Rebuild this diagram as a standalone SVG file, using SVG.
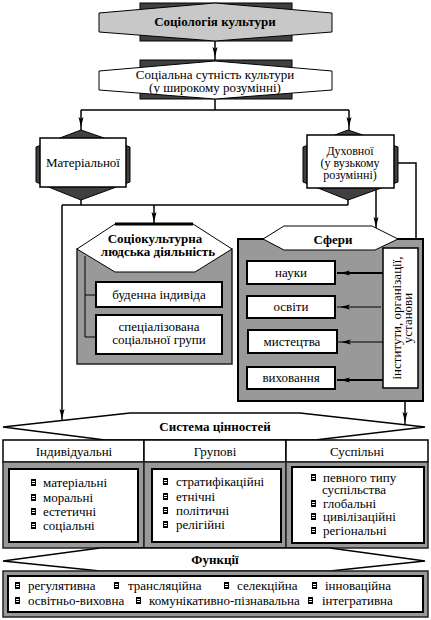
<svg xmlns="http://www.w3.org/2000/svg" xmlns:xlink="http://www.w3.org/1999/xlink" width="431" height="620" viewBox="0 0 431 620">
<style>
.t{font-family:"Liberation Serif","Times New Roman",serif;font-size:13px;fill:#000}
.s{font-size:12px}
.b{font-weight:bold}
.m{text-anchor:middle}
.c{fill:none;stroke:#000;stroke-width:1.5}
.w{fill:#fff;stroke:#000;stroke-width:1.5}
.wb{fill:#fff;stroke:#000;stroke-width:2}
.dk{fill:#404040;stroke:#000;stroke-width:1}
.gp{fill:#999;stroke:#222;stroke-width:1.5}
</style>
<defs>
<marker id="ar" markerUnits="userSpaceOnUse" viewBox="0 0 10 6" markerWidth="10" markerHeight="6" refX="13" refY="3" orient="auto">
<path d="M0,0.5 L10,3 L0,5.5 L2,3 z" fill="#000"/>
</marker>
<g id="bul"><rect x="0" y="0" width="5" height="7" fill="#000"/><rect x="1" y="2" width="3" height="1" fill="#fff"/><rect x="1" y="4" width="3" height="1" fill="#fff"/></g>
</defs>

<g id="connectors">
<path class="c" d="M215,41 V60" marker-end="url(#ar)"/>
<path class="c" d="M215,99 V110 M81,110 H349"/>
<path class="c" d="M81,110 V130" marker-end="url(#ar)"/>
<path class="c" d="M349,110 V130" marker-end="url(#ar)"/>
<path class="c" d="M81,200 V205 M348,200 V205 M62,205 H348"/>
<path class="c" d="M62,205 V422" marker-end="url(#ar)"/>
<path class="c" d="M154,205 V225" marker-end="url(#ar)"/>
<path class="c" d="M376,188 V230" marker-end="url(#ar)"/>
<path class="c" d="M398,163 H416 V239"/>
<path class="c" d="M405,401 V425" marker-end="url(#ar)"/>
</g>

<g id="n-sociology">
<rect class="dk" x="140" y="3" width="152" height="38"/>
<polygon points="99,13 215,3 332,13 332,32 215,41 99,32" fill="#c8c8c8" stroke="#000" stroke-width="1"/>
<text class="t b m" x="215" y="26">Соціологія культури</text>
</g>

<g id="n-social">
<rect class="dk" x="140" y="60" width="152" height="39"/>
<polygon points="99,71 215,61 332,71 332,90 215,99 99,90" fill="#fff" stroke="#000" stroke-width="1"/>
<text class="t m" x="215" y="79">Соціальна сутність культури</text>
<text class="t m" x="215" y="92">(у широкому розумінні)</text>
</g>

<g id="n-material">
<polygon class="dk" points="81,130 130,147 130,182 81,200 36,182 36,147"/>
<rect class="w" x="40" y="138" width="86" height="49" stroke-width="1"/>
<text class="t m" x="83" y="167">Матеріальної</text>
</g>

<g id="n-spiritual">
<polygon class="dk" points="348,130 398,147 398,182 348,200 303,182 303,147"/>
<rect class="w" x="307" y="135" width="87" height="53" stroke-width="1"/>
<text class="t s m" x="350" y="155">Духовної</text>
<text class="t s m" x="350" y="167">(у вузькому</text>
<text class="t s m" x="350" y="179">розумінні)</text>
</g>

<g id="n-activity">
<rect class="gp" x="77" y="249" width="155" height="115" stroke-width="1"/>
<polygon points="77,249 115,224 193,224 232,249 195,272 115,272" fill="#fff" stroke="#000" stroke-width="1"/>
<path d="M115,224 H193" stroke="#000" stroke-width="3"/>
<text class="t b m" x="155" y="243">Соціокультурна</text>
<text class="t b m" x="158" y="256">людська діяльність</text>
<path d="M85,256 V337 H96 M85,295 H96" fill="none" stroke="#000" stroke-width="1"/>
<rect class="wb" x="96" y="282" width="126" height="25"/>
<text class="t m" x="159" y="299">буденна індивіда</text>
<rect class="wb" x="96" y="315" width="126" height="39"/>
<text class="t m" x="159" y="331">спеціалізована</text>
<text class="t m" x="159" y="344">соціальної групи</text>
</g>

<g id="n-spheres">
<rect x="238" y="239" width="185" height="162" fill="#999" stroke="#000" stroke-width="2"/>
<polygon points="263,239 284,226 372,226 398,239 375,250 284,250" fill="#fff" stroke="#000" stroke-width="1"/>
<text class="t b m" x="333" y="244">Сфери</text>
<rect class="wb" x="247" y="261" width="88" height="23"/>
<text class="t m" x="291" y="277">науки</text>
<rect class="wb" x="247" y="296" width="88" height="22"/>
<text class="t m" x="291" y="311">освіти</text>
<rect class="wb" x="248" y="330" width="89" height="23"/>
<text class="t m" x="292" y="346">мистецтва</text>
<rect class="wb" x="247" y="367" width="88" height="22"/>
<text class="t m" x="291" y="382">виховання</text>
<rect class="w" x="383" y="248" width="35" height="140" stroke-width="1"/>
<g transform="translate(401,318) rotate(-90)">
<text class="t m" x="0" y="0">інститути, організації,</text>
<text class="t m" x="0" y="11">установи</text>
</g>
<path d="M383,273 H337" stroke="#000" stroke-width="2" marker-end="url(#ar)"/>
<path d="M381,307 H337" stroke="#000" stroke-width="1" marker-end="url(#ar)"/>
<path d="M383,342 H338" stroke="#000" stroke-width="1" marker-end="url(#ar)"/>
<path d="M383,380 H337" stroke="#000" stroke-width="2" marker-end="url(#ar)"/>
</g>

<g id="n-values">
<polygon points="3,427 130,413 300,413 425,427 315,440 105,440" fill="#fff" stroke="#000" stroke-width="1.5"/>
<text class="t b m" x="215" y="431">Система цінностей</text>
<rect class="w" x="3" y="440" width="141" height="22"/>
<rect class="w" x="144" y="440" width="142" height="22"/>
<rect class="w" x="286" y="440" width="142" height="22"/>
<text class="t m" x="74" y="456">Індивідуальні</text>
<text class="t m" x="215" y="456">Групові</text>
<text class="t m" x="357" y="456">Суспільні</text>
<rect class="gp" x="3" y="462" width="141" height="86"/>
<rect class="gp" x="144" y="462" width="142" height="86"/>
<rect class="gp" x="286" y="462" width="142" height="86"/>
<rect class="wb" x="9" y="469" width="129" height="73"/>
<rect class="wb" x="152" y="469" width="129" height="73"/>
<rect class="wb" x="292" y="467" width="132" height="76"/>
<use xlink:href="#bul" x="31" y="479"/><text class="t" x="43" y="487">матеріальні</text>
<use xlink:href="#bul" x="31" y="494"/><text class="t" x="43" y="502">моральні</text>
<use xlink:href="#bul" x="31" y="508"/><text class="t" x="43" y="516">естетичні</text>
<use xlink:href="#bul" x="31" y="522"/><text class="t" x="43" y="530">соціальні</text>
<use xlink:href="#bul" x="163" y="478"/><text class="t" x="176" y="486">стратифікаційні</text>
<use xlink:href="#bul" x="163" y="493"/><text class="t" x="176" y="501">етнічні</text>
<use xlink:href="#bul" x="163" y="507"/><text class="t" x="176" y="515">політичні</text>
<use xlink:href="#bul" x="163" y="521"/><text class="t" x="176" y="529">релігійні</text>
<use xlink:href="#bul" x="311" y="474"/><text class="t" x="323" y="482">певного типу</text>
<text class="t" x="322" y="494">суспільства</text>
<use xlink:href="#bul" x="311" y="500"/><text class="t" x="323" y="508">глобальні</text>
<use xlink:href="#bul" x="311" y="513"/><text class="t" x="323" y="521">цивілізаційні</text>
<use xlink:href="#bul" x="311" y="527"/><text class="t" x="323" y="535">регіональні</text>
</g>

<g id="n-functions">
<polygon points="3,561 100,548 330,548 425,561 330,571 100,571" fill="#fff" stroke="#000" stroke-width="1.5"/>
<text class="t b m" x="215" y="564">Функції</text>
<rect class="gp" x="3" y="571" width="425" height="46" stroke="#000"/>
<rect class="wb" x="8" y="576" width="415" height="36"/>
<use xlink:href="#bul" x="15" y="582"/><text class="t" x="28" y="590">регулятивна</text>
<use xlink:href="#bul" x="114" y="582"/><text class="t" x="128" y="590">трансляційна</text>
<use xlink:href="#bul" x="224" y="582"/><text class="t" x="237" y="590">селекційна</text>
<use xlink:href="#bul" x="312" y="582"/><text class="t" x="325" y="590">інноваційна</text>
<use xlink:href="#bul" x="15" y="597"/><text class="t" x="28" y="605">освітньо-виховна</text>
<use xlink:href="#bul" x="136" y="597"/><text class="t" x="149" y="605">комунікативно-пізнавальна</text>
<use xlink:href="#bul" x="308" y="597"/><text class="t" x="322" y="605">інтегративна</text>
</g>
</svg>
